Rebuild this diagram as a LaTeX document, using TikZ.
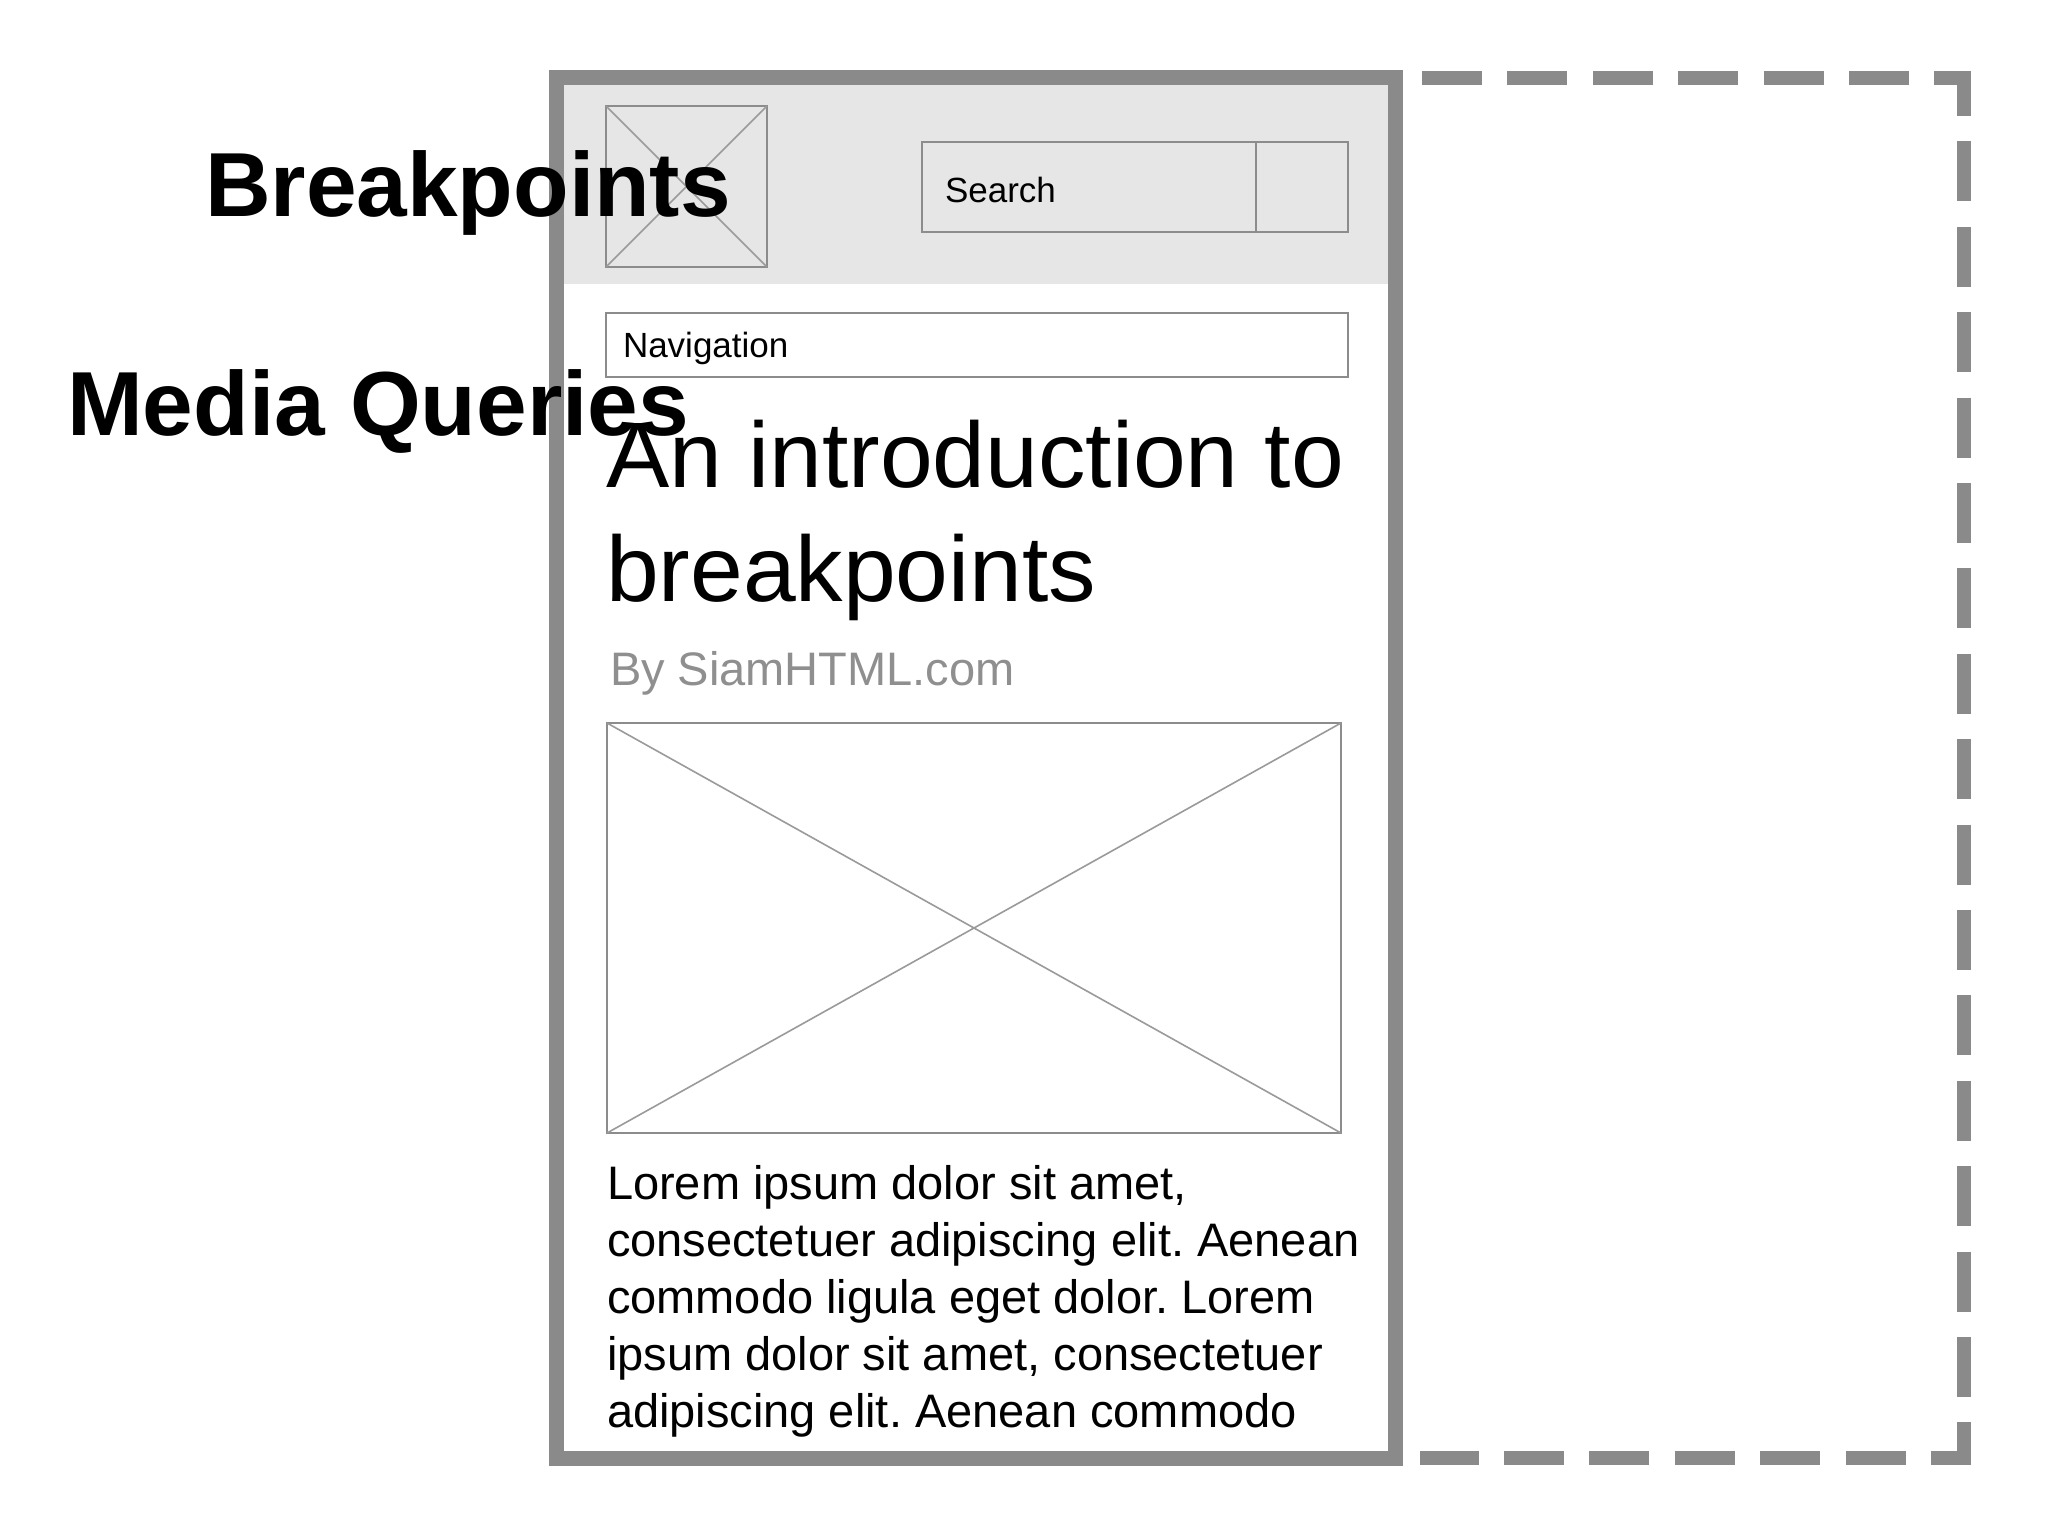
\documentclass[tikz,border=0pt]{standalone}
\usepackage{fontspec}
\setmainfont{Liberation Sans}
\newfontfamily\titlefam[FakeStretch=1.02]{Liberation Sans}
\frenchspacing
\definecolor{framegray}{HTML}{8A8A8A}
\definecolor{headgray}{HTML}{E6E6E6}
\definecolor{linegray}{HTML}{8C8C8C}
\definecolor{xgray}{HTML}{9A9A9A}
\definecolor{bygray}{HTML}{8F8F8F}
\begin{document}
\begin{tikzpicture}[x=1pt,y=-1pt,
  frameline/.style={draw=framegray,line width=15pt},
  dashside/.style={draw=framegray,line width=14pt,line cap=butt,dash pattern=on 60pt off 25.4pt},
  thinbox/.style={draw=linegray,line width=2.5pt},
  xline/.style={draw=xgray,line width=1.6pt},
  txt/.style={anchor=base west,inner sep=0pt,outer sep=0pt},
  bigbold/.style={txt,font=\fontsize{91}{108}\selectfont\bfseries},
  titlefont/.style={txt,font=\titlefam\fontsize{93}{112}\selectfont},
  bodyfont/.style={txt,font=\fontsize{47}{57}\selectfont},
  uifont/.style={txt,font=\fontsize{35}{42}\selectfont}
]
\useasboundingbox[fill=white] (0,0) rectangle (2048,1536);

% header fill
\fill[headgray] (556,78) rectangle (1395,284);

% phone frame
\draw[frameline] (556,78) rectangle (1395,1458);

% dashed wider viewport
\draw[dashside] (1422,78) -- (1971,78);
\draw[dashside,dash phase=15pt] (1964,71) -- (1964,1465);
\draw[dashside,dash phase=20pt] (1971,1458) -- (1420,1458);

% logo placeholder
\draw[thinbox] (606,106) rectangle (767,267);
\draw[xline] (606,106) -- (767,267);
\draw[xline] (767,106) -- (606,267);

% search box
\draw[thinbox,fill=headgray] (922,142) rectangle (1348,232);
\draw[thinbox] (1256,142) -- (1256,232);
\node[uifont] (search) at (945,202) {Search};

% navigation
\draw[thinbox,fill=white] (606,313) rectangle (1348,377);
\node[uifont] (nav) at (623,357) {Navigation};

% title
\node[titlefont] (t1) at (606,487) {An introduction to};
\node[titlefont] (t2) at (606,601) {breakpoints};
\node[txt,font=\fontsize{47}{57}\selectfont,text=bygray] (by) at (610,685) {By SiamHTML.com};

% image placeholder
\draw[thinbox] (607,723) rectangle (1341,1133);
\draw[xline] (607,723) -- (1341,1133);
\draw[xline] (1341,723) -- (607,1133);

% body text
\node[bodyfont] (l1) at (607,1199) {Lorem ipsum dolor sit amet,};
\node[bodyfont] (l2) at (607,1256) {consectetuer adipiscing elit. Aenean};
\node[bodyfont] (l3) at (607,1313) {commodo ligula eget dolor. Lorem};
\node[bodyfont] (l4) at (607,1370) {ipsum dolor sit amet, consectetuer};
\node[bodyfont] (l5) at (607,1427) {adipiscing elit. Aenean commodo};

% overlay labels
\node[bigbold] (bp) at (205,216) {Breakpoints};
\node[bigbold] (mq) at (67,435) {Media Queries};
\end{tikzpicture}
\end{document}
